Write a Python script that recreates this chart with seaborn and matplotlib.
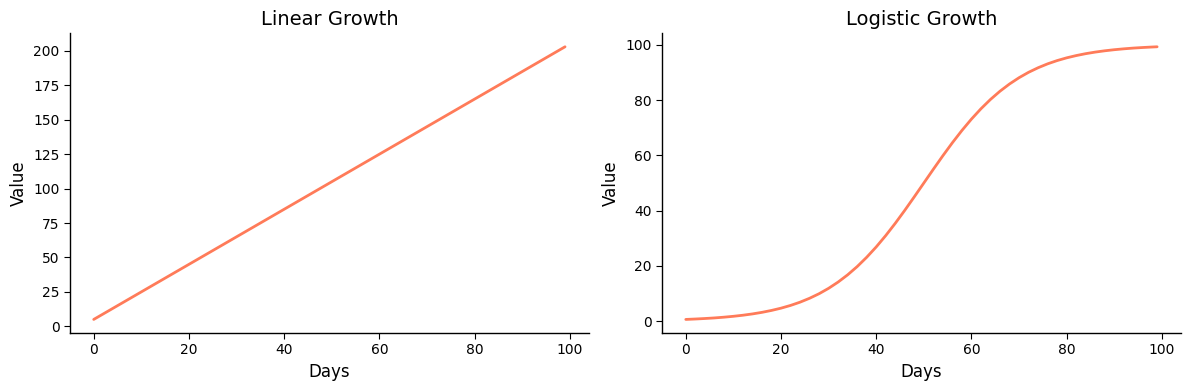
import pandas as pd
import matplotlib
matplotlib.use('Agg')
import matplotlib.pyplot as plt
import seaborn as sns

# valores
dias_lineal = [0, 10, 20, 30, 40, 50, 60, 70, 80, 90, 99]
valor_lineal = [5, 25, 45, 65, 85, 105, 125, 145, 165, 185, 203]

dias_logistico = [0, 2, 4, 6, 8, 10, 12, 14, 16, 18, 20, 22, 24, 26, 28,
                  30, 32, 34, 36, 38, 40, 42, 44, 46, 48, 50, 52, 54, 56,
                  58, 60, 62, 64, 66, 68, 70, 72, 74, 76, 78, 80, 82, 84,
                  86, 88, 90, 92, 94, 96, 98, 99]
valor_logistico = [0.67, 0.82, 1.0, 1.21, 1.48, 1.8, 2.19, 2.66, 3.23, 3.92,
                   4.74, 5.73, 6.91, 8.32, 9.97, 11.92, 14.19, 16.8, 19.78,
                   23.15, 26.89, 31.0, 35.43, 40.13, 45.02, 50.0, 54.98,
                   59.87, 64.57, 69.0, 73.11, 76.85, 80.22, 83.2, 85.81,
                   88.08, 90.03, 91.68, 93.09, 94.27, 95.26, 96.08, 96.77,
                   97.34, 97.81, 98.2, 98.52, 98.79, 99.0, 99.18, 99.26]

COLOR = '#ff7b59'


def generar_graficas():
    sns.set_theme(style='white')
    plt.rcParams['font.family'] = ['DejaVu Sans']

    df_lin = pd.DataFrame({'Days': dias_lineal, 'Value': valor_lineal})
    df_log = pd.DataFrame({'Days': dias_logistico, 'Value': valor_logistico})

    fig, axes = plt.subplots(1, 2, figsize=(11.89, 3.9), dpi=100)

    sns.lineplot(data=df_lin, x='Days', y='Value', ax=axes[0], color=COLOR, linewidth=2)
    axes[0].set_title('Linear Growth', fontsize=14)

    sns.lineplot(data=df_log, x='Days', y='Value', ax=axes[1], color=COLOR, linewidth=2)
    axes[1].set_title('Logistic Growth', fontsize=14)

    for ax in axes:
        ax.set_xlabel('Days', fontsize=12)
        ax.set_ylabel('Value', fontsize=12)
        ax.tick_params(axis='both', labelsize=10, length=4, width=0.8,
                       bottom=True, left=True, color='black', labelcolor='black')
        for s in ax.spines.values():
            s.set_color('black')
            s.set_linewidth(1.0)
        ax.xaxis.label.set_color('black')
        ax.yaxis.label.set_color('black')
        ax.title.set_color('black')

    sns.despine()
    plt.subplots_adjust(left=0.059, right=0.993, bottom=0.146, top=0.915, wspace=0.142)
    plt.savefig('out.png', dpi=100)


if __name__ == '__main__':
    generar_graficas()
